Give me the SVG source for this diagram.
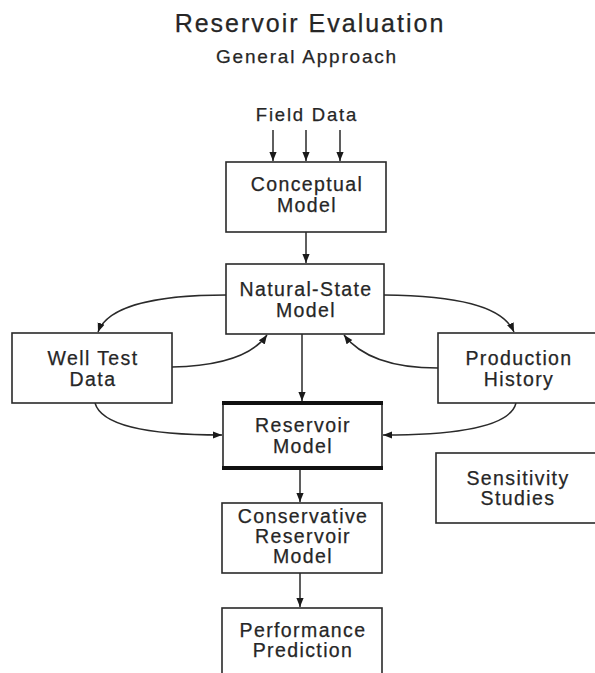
<svg xmlns="http://www.w3.org/2000/svg" width="595" height="673" viewBox="0 0 595 673">
<style>
.b{fill:#fff;stroke:#2a2a2a;stroke-width:1.6}
.t{font-family:"Liberation Sans",Arial,sans-serif;font-size:19.5px;letter-spacing:1.4px;fill:#262626;stroke:#262626;stroke-width:0.25;text-anchor:middle}
.c{fill:none;stroke:#2a2a2a;stroke-width:1.5}
</style>
<defs>
<marker id="ah" viewBox="0 0 10 10" refX="10" refY="5" markerWidth="9" markerHeight="9" markerUnits="userSpaceOnUse" orient="auto">
<path d="M0,1 L10,5 L0,9 Z" fill="#1a1a1a"/>
</marker>
</defs>
<rect width="595" height="673" fill="#fff"/>
<g id="title">
<text x="310" y="32" class="t" style="font-size:25px;letter-spacing:2px">Reservoir Evaluation</text>
<text x="307" y="63" class="t" style="font-size:19px;letter-spacing:1.8px">General Approach</text>
</g>
<g id="field-data"><text x="307" y="121" class="t" style="font-size:18.5px;letter-spacing:1.8px">Field Data</text></g>
<g id="connectors">
<line x1="273" y1="130" x2="273" y2="161" class="c" marker-end="url(#ah)"/>
<line x1="306" y1="130" x2="306" y2="161" class="c" marker-end="url(#ah)"/>
<line x1="340" y1="130" x2="340" y2="161" class="c" marker-end="url(#ah)"/>
<line x1="306" y1="232" x2="306" y2="263" class="c" marker-end="url(#ah)"/>
<line x1="302" y1="334" x2="302" y2="401" class="c" marker-end="url(#ah)"/>
<line x1="300" y1="469" x2="300" y2="502" class="c" marker-end="url(#ah)"/>
<line x1="300" y1="573" x2="300" y2="607" class="c" marker-end="url(#ah)"/>
<path d="M226,295 C160,295 108,305 98,332" class="c" marker-end="url(#ah)"/>
<path d="M172,367 C220,366 252,356 267,335" class="c" marker-end="url(#ah)"/>
<path d="M95,403 C102,428 160,435 222,435" class="c" marker-end="url(#ah)"/>
<path d="M384,295 C455,296 502,305 514,332" class="c" marker-end="url(#ah)"/>
<path d="M438,368 C392,368 360,356 344,335" class="c" marker-end="url(#ah)"/>
<path d="M516,403 C510,428 452,435 383,435" class="c" marker-end="url(#ah)"/>
</g>
<g id="conceptual"><rect x="226" y="162" width="160" height="70" class="b"/>
<text x="307" y="191" class="t">Conceptual</text><text x="307" y="212" class="t">Model</text></g>
<g id="natural-state"><rect x="226" y="264" width="158" height="70" class="b"/>
<text x="306" y="296" class="t">Natural-State</text><text x="306" y="317" class="t">Model</text></g>
<g id="well-test"><rect x="12" y="333" width="160" height="70" class="b"/>
<text x="93" y="365" class="t">Well Test</text><text x="93" y="386" class="t">Data</text></g>
<g id="production"><rect x="438" y="333" width="170" height="70" class="b"/>
<text x="519" y="365" class="t">Production</text><text x="519" y="386" class="t">History</text></g>
<g id="reservoir"><rect x="223" y="403" width="159" height="65" class="b"/>
<line x1="222" y1="403" x2="383" y2="403" stroke="#111" stroke-width="4"/>
<line x1="222" y1="468" x2="383" y2="468" stroke="#111" stroke-width="4"/>
<text x="303" y="432" class="t">Reservoir</text><text x="303" y="453" class="t">Model</text></g>
<g id="conservative"><rect x="222" y="503" width="160" height="70" class="b"/>
<text x="303" y="523" class="t">Conservative</text><text x="303" y="543" class="t">Reservoir</text><text x="303" y="563" class="t">Model</text></g>
<g id="performance"><rect x="222" y="608" width="160" height="80" class="b"/>
<text x="303" y="637" class="t">Performance</text><text x="303" y="657" class="t">Prediction</text></g>
<g id="sensitivity"><rect x="436" y="453" width="170" height="70" class="b"/>
<text x="518" y="485" class="t">Sensitivity</text><text x="518" y="505" class="t">Studies</text></g>
</svg>
